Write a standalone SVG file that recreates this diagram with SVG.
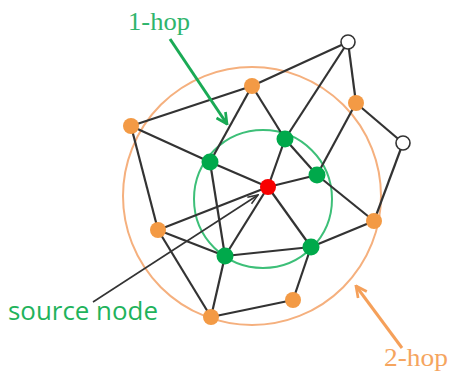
<svg xmlns="http://www.w3.org/2000/svg" width="450" height="374" viewBox="0 0 450 374">
<defs>
<style>
.e{stroke:#333;stroke-width:2.2;fill:none}
.or{fill:#f39a45}
.gr{fill:#00a94b}
.wh{fill:#fff;stroke:#333;stroke-width:1.6}
.rd{fill:#f80000}
.serif{font-family:"Liberation Serif","DejaVu Serif",serif;font-size:26px}
.sans{font-family:"Open Sans","Liberation Sans",sans-serif;font-size:25px}
</style>
<marker id="ag" viewBox="0 0 10 10" refX="9" refY="5" markerWidth="4.5" markerHeight="4.5" orient="auto" markerUnits="strokeWidth"><path d="M1,1 L9,5 L1,9" fill="none" stroke="#1aaa55" stroke-width="2"/></marker>
<marker id="ao" viewBox="0 0 10 10" refX="9" refY="5" markerWidth="4.5" markerHeight="4.5" orient="auto" markerUnits="strokeWidth"><path d="M1,1 L9,5 L1,9" fill="none" stroke="#f5a05a" stroke-width="2"/></marker>
<marker id="ak" viewBox="0 0 10 10" refX="9" refY="5" markerWidth="8" markerHeight="8" orient="auto" markerUnits="strokeWidth"><path d="M1,2 L9,5 L1,8" fill="none" stroke="#333" stroke-width="1.2"/></marker>
</defs>
<rect width="450" height="374" fill="#fff"/>
<g id="rings">
<circle cx="252" cy="196" r="129" fill="none" stroke="#f5b07e" stroke-width="2"/>
<circle cx="263" cy="199" r="69" fill="none" stroke="#3dbf78" stroke-width="2"/>
</g>
<g id="connectors">
<line class="e" x1="131" y1="126" x2="252" y2="86"/>
<line class="e" x1="252" y1="86" x2="348" y2="42"/>
<line class="e" x1="131" y1="126" x2="210" y2="162"/>
<line class="e" x1="131" y1="126" x2="158" y2="230"/>
<line class="e" x1="252" y1="86" x2="210" y2="162"/>
<line class="e" x1="252" y1="86" x2="285" y2="139"/>
<line class="e" x1="348" y1="42" x2="285" y2="139"/>
<line class="e" x1="348" y1="42" x2="356" y2="103"/>
<line class="e" x1="356" y1="103" x2="403" y2="143"/>
<line class="e" x1="356" y1="103" x2="317" y2="175"/>
<line class="e" x1="403" y1="143" x2="374" y2="221"/>
<line class="e" x1="285" y1="139" x2="268" y2="187"/>
<line class="e" x1="285" y1="139" x2="317" y2="175"/>
<line class="e" x1="268" y1="187" x2="317" y2="175"/>
<line class="e" x1="317" y1="175" x2="374" y2="221"/>
<line class="e" x1="210" y1="162" x2="268" y2="187"/>
<line class="e" x1="210" y1="162" x2="225" y2="256"/>
<line class="e" x1="268" y1="187" x2="225" y2="256"/>
<line class="e" x1="268" y1="187" x2="311" y2="247"/>
<line class="e" x1="225" y1="256" x2="311" y2="247"/>
<line class="e" x1="311" y1="247" x2="374" y2="221"/>
<line class="e" x1="311" y1="247" x2="293" y2="300"/>
<line class="e" x1="293" y1="300" x2="211" y2="317"/>
<line class="e" x1="225" y1="256" x2="211" y2="317"/>
<line class="e" x1="158" y1="230" x2="211" y2="317"/>
<line class="e" x1="158" y1="230" x2="225" y2="256"/>
<line class="e" x1="158" y1="230" x2="268" y2="187"/>
<line x1="93" y1="302" x2="258" y2="195" stroke="#333" stroke-width="1.6" marker-end="url(#ak)"/>
<line x1="170" y1="39" x2="227" y2="124" stroke="#1aaa55" stroke-width="3" marker-end="url(#ag)"/>
<line x1="402" y1="348" x2="356" y2="286" stroke="#f5a05a" stroke-width="3" marker-end="url(#ao)"/>
</g>
<g id="n_o1"><circle class="or" cx="131" cy="126" r="8"/></g>
<g id="n_o2"><circle class="or" cx="252" cy="86" r="8"/></g>
<g id="n_o3"><circle class="or" cx="356" cy="103" r="8"/></g>
<g id="n_o4"><circle class="or" cx="158" cy="230" r="8"/></g>
<g id="n_o5"><circle class="or" cx="374" cy="221" r="8"/></g>
<g id="n_o6"><circle class="or" cx="293" cy="300" r="8"/></g>
<g id="n_o7"><circle class="or" cx="211" cy="317" r="8"/></g>
<g id="n_w1"><circle class="wh" cx="348" cy="42" r="7"/></g>
<g id="n_w2"><circle class="wh" cx="403" cy="143" r="7"/></g>
<g id="n_g1"><circle class="gr" cx="210" cy="162" r="8.5"/></g>
<g id="n_g2"><circle class="gr" cx="285" cy="139" r="8.5"/></g>
<g id="n_g3"><circle class="gr" cx="317" cy="175" r="8.5"/></g>
<g id="n_g4"><circle class="gr" cx="225" cy="256" r="8.5"/></g>
<g id="n_g5"><circle class="gr" cx="311" cy="247" r="8.5"/></g>
<g id="n_src"><circle class="rd" cx="268" cy="187" r="8"/></g>
<g id="labels">
<text class="serif" x="128" y="30" fill="#2fb56c" textLength="62" lengthAdjust="spacingAndGlyphs">1-hop</text>
<text class="serif" x="384" y="366" fill="#f5a55f" textLength="64" lengthAdjust="spacingAndGlyphs">2-hop</text>
<text class="sans" x="8" y="320" fill="#1fb35c" textLength="150" lengthAdjust="spacingAndGlyphs">source node</text>
</g>
</svg>
